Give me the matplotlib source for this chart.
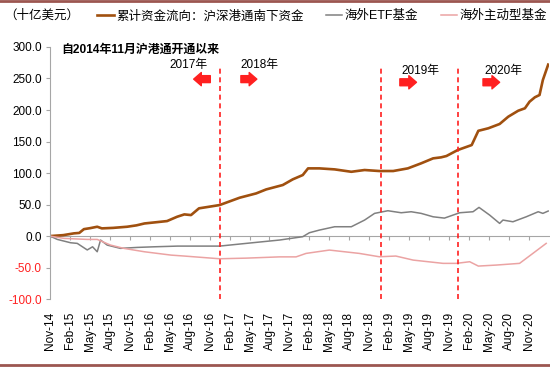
import numpy as np
import matplotlib
matplotlib.use("Agg")
import matplotlib.pyplot as plt
from matplotlib.lines import Line2D

plt.rcParams['font.family'] = ['Liberation Sans', 'Noto Sans CJK SC', 'DejaVu Sans']

# x = months since Nov-2014
south_x = [0, 2, 3.6, 4.4, 5.1, 6, 7.1, 7.8, 9.5, 11.6, 13, 14.2, 16, 17.6, 19.1, 20.2,
           21.2, 22.4, 23.9, 25.5, 27, 28.5, 31, 32.5, 35, 36.5, 38, 38.8, 40.5, 42.8,
           45.3, 47.3, 49.5, 51.6, 53.8, 55.8, 57.6, 58.8, 59.6, 61.3, 63.4, 64.4, 65.9,
           67.6, 68.9, 70.4, 71.4, 72.1, 72.9, 73.6, 74.1, 74.9]
south_v = [0, 1.5, 4.3, 5, 11, 12.5, 14.8, 12.2, 13, 14.8, 17, 20, 22, 23.8, 30.6, 34.4,
           33.3, 44, 46.5, 49.2, 55, 60.8, 67.7, 74, 81, 90, 96.8, 107.4, 107.4, 105.8,
           102, 104.8, 103.2, 103.2, 107.4, 115.4, 123.3, 124.9, 127, 136.5, 144.4, 167, 171,
           177.8, 189.4, 198.9, 202.7, 213.2, 220.2, 223.8, 247.6, 272]

etf_x = [0, 1.1, 3.1, 4.1, 5.6, 6.4, 7.1, 7.6, 8.6, 10.6, 13.1, 15.7, 19.2, 25.5, 29.5,
         34.5, 38, 39, 40.5, 42.8, 45.3, 47.3, 48.8, 50.8, 52.8, 54.3, 55.8, 57.6, 59.3,
         61.6, 63.6, 64.5, 66.1, 67.6, 68.1, 69.6, 71.6, 73.4, 74.1, 74.9]
etf_v = [0, -5.3, -10.6, -11.6, -22, -17, -24.9, -6.3, -14.3, -19.5, -18, -17, -15.9, -15.9,
         -11.6, -6.3, -1, 5.3, 9.5, 14.8, 14.8, 25.4, 36, 40.2, 37, 38.6, 36, 30.6, 28.5,
         37, 38.6, 45.5, 33.3, 20.1, 25.4, 22.7, 30.6, 38.6, 36, 39.7]

active_x = [0, 2.1, 5.6, 7.1, 9.1, 11.1, 14.2, 18.2, 20.2, 25.5, 29.5, 34.5, 37, 38.5, 42,
            46.5, 49.5, 52, 54.6, 59.1, 61.1, 63.1, 64.4, 67.1, 70.6, 72.6, 74.6]
active_v = [0, -3.7, -5.3, -5.3, -14.3, -19.5, -24.9, -30.2, -31.7, -36, -35, -33, -33, -27.5,
            -22.2, -27.5, -32.8, -31.7, -38.1, -43.3, -43.3, -40.7, -47.6, -46, -43.3, -27.5, -11.6]

tick_pos = list(range(0, 73, 3))
tick_labels = ['Nov-14', 'Feb-15', 'May-15', 'Aug-15', 'Nov-15', 'Feb-16', 'May-16', 'Aug-16',
               'Nov-16', 'Feb-17', 'May-17', 'Aug-17', 'Nov-17', 'Feb-18', 'May-18', 'Aug-18',
               'Nov-18', 'Feb-19', 'May-19', 'Aug-19', 'Nov-19', 'Feb-20', 'May-20', 'Aug-20',
               'Nov-20']
year_lines = [25.6, 49.7, 61.3]

BROWN = '#a0500f'
GREY = '#808080'
PINK = '#eba3a3'
RED = '#ff2020'
AXC = '#a6a6a6'

fig = plt.figure(figsize=(5.5, 3.67), dpi=100)
ax = fig.add_axes([0.0909, 0.185, 0.907, 0.687])

ax.plot(south_x, south_v, color=BROWN, lw=1.9, label='累计资金流向：沪深港通南下资金')
ax.plot(etf_x, etf_v, color=GREY, lw=1.1, label='海外ETF基金')
ax.plot(active_x, active_v, color=PINK, lw=1.1, label='海外主动型基金')

ax.vlines(year_lines, -100, 270, colors=RED, lw=1.2, linestyles=(0, (3, 2.2)))

ax.set_xlim(0, 75)
ax.set_ylim(-100, 300)
ax.set_yticks(np.arange(-100, 301, 50))
ax.set_yticklabels([f'{v:.1f}' for v in np.arange(-100, 301, 50)], fontsize=8.5)
for lab in ax.get_yticklabels():
    if lab.get_text().startswith('-'):
        lab.set_color(RED)
ax.tick_params(axis='y', length=3, color=AXC, pad=3)

ax.set_xticks(tick_pos)
ax.set_xticklabels(tick_labels, rotation=90, fontsize=8.5)
ax.tick_params(axis='x', length=0, pad=9)

for s in ['top', 'right', 'bottom']:
    ax.spines[s].set_visible(False)
ax.spines['left'].set_color(AXC)

# zero line carrying the ticks
sec = ax.secondary_xaxis(0.25)
sec.set_xticks(tick_pos)
sec.set_xticklabels([])
sec.tick_params(length=3, color=AXC, direction='out')
sec.spines['bottom'].set_color(AXC)

ax.text(1.7, 295, '自2014年11月沪港通开通以来', fontsize=8.6, fontweight='bold',
        va='center', ha='left')

# year annotations
arrow_style = 'simple,head_length=0.55,head_width=0.95,tail_width=0.5'
ax.text(20.8, 272, '2017年', fontsize=8.5, ha='center', va='center')
ax.annotate('', xy=(21.6, 249), xytext=(24.1, 249),
            arrowprops=dict(arrowstyle=arrow_style, color=RED, shrinkA=0, shrinkB=0, mutation_scale=10))
ax.text(31.5, 272, '2018年', fontsize=8.5, ha='center', va='center')
ax.annotate('', xy=(31.1, 249), xytext=(28.7, 249),
            arrowprops=dict(arrowstyle=arrow_style, color=RED, shrinkA=0, shrinkB=0, mutation_scale=10))
ax.text(55.7, 262, '2019年', fontsize=8.5, ha='center', va='center')
ax.annotate('', xy=(55.1, 244), xytext=(52.6, 244),
            arrowprops=dict(arrowstyle=arrow_style, color=RED, shrinkA=0, shrinkB=0, mutation_scale=10))
ax.text(68.1, 262, '2020年', fontsize=8.5, ha='center', va='center')
ax.annotate('', xy=(67.6, 244), xytext=(65.1, 244),
            arrowprops=dict(arrowstyle=arrow_style, color=RED, shrinkA=0, shrinkB=0, mutation_scale=10))

fig.text(0.008, 0.956, '（十亿美元）', fontsize=9, va='center', ha='left')
fig.legend(loc='center', bbox_to_anchor=(0.586, 0.956), ncol=3, frameon=False,
           fontsize=9, handlelength=1.3, handletextpad=0.2, columnspacing=1.8,
           borderaxespad=0, borderpad=0)

border = '#9c5650'
fig.add_artist(Line2D([0, 1], [0.996, 0.996], transform=fig.transFigure, color=border, lw=2))
fig.add_artist(Line2D([0, 1], [0.006, 0.006], transform=fig.transFigure, color=border, lw=2))

fig.savefig('out.png', dpi=100)
